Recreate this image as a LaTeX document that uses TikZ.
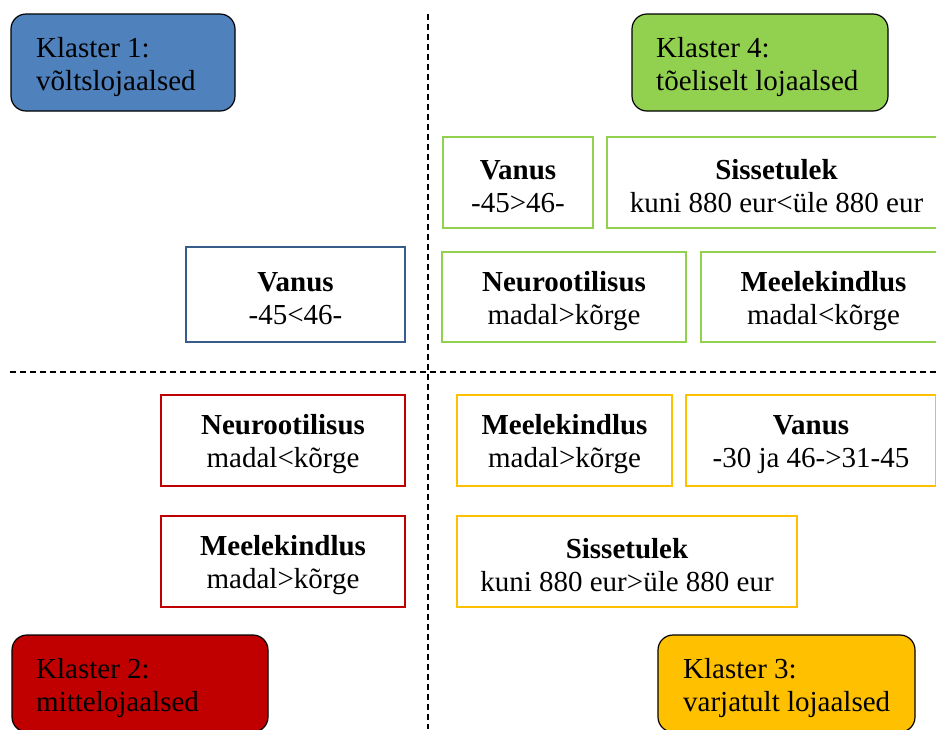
\documentclass[tikz,border=0pt]{standalone}
\usepackage{fontspec}
\setmainfont{Liberation Serif}
\definecolor{kblue}{HTML}{4F81BD}
\definecolor{kbluedark}{HTML}{385D8A}
\definecolor{kgreen}{HTML}{92D050}
\definecolor{kred}{HTML}{C00000}
\definecolor{korange}{HTML}{FFC000}
\newcommand\boxhead[1]{\rule{0pt}{28pt}\textbf{#1}}
\begin{document}
\begin{tikzpicture}[x=1pt,y=-1pt,
  every node/.style={font=\fontsize{29}{33}\selectfont},
  cluster/.style={draw=black, line width=1.2pt, rounded corners=15pt,
    inner sep=0pt, minimum height=97pt},
  clustertext/.style={align=left, inner sep=0pt, anchor=west},
  cbox/.style={draw, line width=1.5pt, align=center, inner sep=0pt},
  divider/.style={line width=1.3pt, dash pattern=on 6pt off 4pt}
]
\useasboundingbox (0,0) rectangle (936,729);

% dividers
\coordinate (vt) at (428,14);
\coordinate (vb) at (428,729);
\coordinate (hl) at (10,372);
\coordinate (hr) at (936,372);
\draw[divider] (vt) -- (vb);
\draw[divider] (hl) -- (hr);

% cluster labels
\node[cluster, fill=kblue, minimum width=224pt] (k1) at (123,62.5) {};
\node[clustertext] (k1t) at (36,67) {Klaster 1:\\võltslojaalsed};
\node[cluster, fill=kgreen, minimum width=256pt] (k4) at (760,62.5) {};
\node[clustertext] (k4t) at (656,67) {Klaster 4:\\tõeliselt lojaalsed};
\node[cluster, fill=kred, minimum width=256pt] (k2) at (140,683.5) {};
\node[clustertext] (k2t) at (36,688) {Klaster 2:\\mittelojaalsed};
\node[cluster, fill=korange, minimum width=257pt] (k3) at (786.5,683.5) {};
\node[clustertext] (k3t) at (683,688) {Klaster 3:\\varjatult lojaalsed};

% cluster 4 (green)
\node[cbox, draw=kgreen, minimum width=150pt, minimum height=91pt] (gV) at (518,182.5) {\boxhead{Vanus}\\-45>46-};
\node[cbox, draw=kgreen, minimum width=339pt, minimum height=91pt] (gS) at (776.5,182.5) {\boxhead{Sissetulek}\\kuni 880 eur<üle 880 eur};
\node[cbox, draw=kgreen, minimum width=244pt, minimum height=90pt] (gN) at (564,297) {\boxhead{Neurootilisus}\\madal>kõrge};
\node[cbox, draw=kgreen, minimum width=245pt, minimum height=90pt] (gM) at (823.5,297) {\boxhead{Meelekindlus}\\madal<kõrge};

% cluster 1 (blue)
\node[cbox, draw=kbluedark, minimum width=219pt, minimum height=95pt] (bV) at (295.5,294.5) {\boxhead{Vanus}\\-45<46-};

% cluster 2 (red)
\node[cbox, draw=kred, minimum width=244pt, minimum height=91pt] (rN) at (283,440.5) {\boxhead{Neurootilisus}\\madal<kõrge};
\node[cbox, draw=kred, minimum width=244pt, minimum height=91pt] (rM) at (283,561.5) {\boxhead{Meelekindlus}\\madal>kõrge};

% cluster 3 (orange)
\node[cbox, draw=korange, minimum width=215pt, minimum height=91pt] (oM) at (564.5,440.5) {\boxhead{Meelekindlus}\\madal>kõrge};
\node[cbox, draw=korange, minimum width=250pt, minimum height=91pt] (oV) at (811,440.5) {\boxhead{Vanus}\\-30 ja 46->31-45};
\node[cbox, draw=korange, minimum width=340pt, minimum height=91pt] (oS) at (627,561.5) {\boxhead{Sissetulek}\\kuni 880 eur>üle 880 eur};
\end{tikzpicture}
\end{document}
